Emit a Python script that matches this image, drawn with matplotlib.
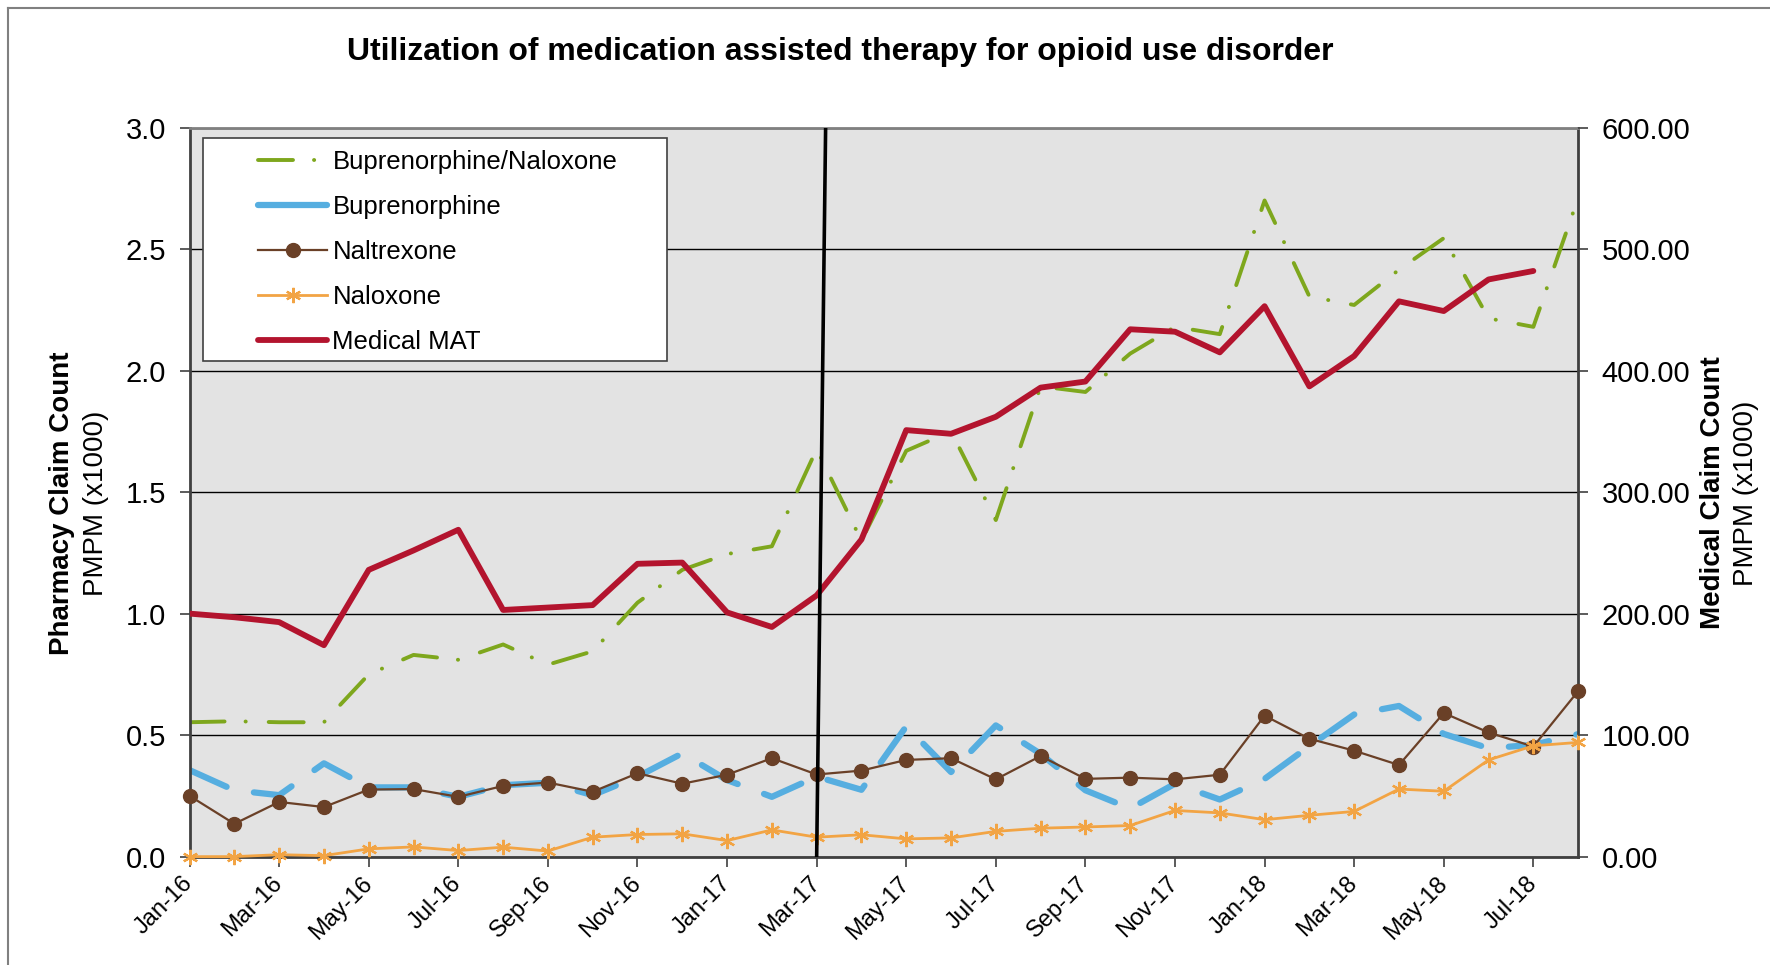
import numpy as np
import matplotlib
matplotlib.use('Agg')
import matplotlib.pyplot as plt
from matplotlib.patches import Rectangle
from matplotlib.lines import Line2D
from matplotlib.ticker import FormatStrFormatter

plt.rcParams['font.family'] = ['Liberation Sans', 'DejaVu Sans']

months = ['Jan-16', 'Feb-16', 'Mar-16', 'Apr-16', 'May-16', 'Jun-16', 'Jul-16', 'Aug-16',
          'Sep-16', 'Oct-16', 'Nov-16', 'Dec-16', 'Jan-17', 'Feb-17', 'Mar-17', 'Apr-17',
          'May-17', 'Jun-17', 'Jul-17', 'Aug-17', 'Sep-17', 'Oct-17', 'Nov-17', 'Dec-17',
          'Jan-18', 'Feb-18', 'Mar-18', 'Apr-18', 'May-18', 'Jun-18', 'Jul-18', 'Aug-18']

# pharmacy claims PMPM (x1000), left axis
bup_nal = [0.553, 0.557, 0.553, 0.553, 0.75, 0.83, 0.81, 0.873, 0.79, 0.845, 1.045, 1.18,
           1.245, 1.277, 1.677, 1.30, 1.67, 1.75, 1.385, 1.935, 1.912, 2.07, 2.18, 2.15,
           2.70, 2.305, 2.27, 2.415, 2.545, 2.215, 2.18, 2.71]
bup = [0.356, 0.273, 0.253, 0.384, 0.285, 0.285, 0.246, 0.294, 0.304, 0.253, 0.329, 0.425,
       0.315, 0.246, 0.329, 0.275, 0.536, 0.348, 0.54, 0.423, 0.273, 0.198, 0.30, 0.235,
       0.32, 0.455, 0.585, 0.62, 0.505, 0.446, 0.46, 0.504]
naltrexone = [0.25, 0.135, 0.225, 0.204, 0.276, 0.278, 0.246, 0.291, 0.305, 0.267, 0.343, 0.30,
              0.337, 0.405, 0.338, 0.354, 0.398, 0.405, 0.318, 0.414, 0.32, 0.325, 0.318, 0.337,
              0.58, 0.485, 0.436, 0.377, 0.591, 0.511, 0.453, 0.681]
naloxone = [0.0, 0.0, 0.008, 0.004, 0.032, 0.04, 0.025, 0.039, 0.023, 0.08, 0.091, 0.094,
            0.066, 0.11, 0.08, 0.09, 0.073, 0.077, 0.104, 0.117, 0.122, 0.128, 0.19, 0.18,
            0.152, 0.17, 0.186, 0.278, 0.269, 0.398, 0.456, 0.47]

# medical claims PMPM (x1000), right axis
medical_mat = [200, 197, 193, 174, 236, 252, 269, 203, 205, 207, 241, 242,
               201, 189, 215, 261, 351, 348, 362, 386, 391, 434, 432, 415,
               453, 387, 412, 457, 449, 475, 482, np.nan]

event_month = 'Mar-17'

x = np.arange(len(months))

fig = plt.figure(figsize=(17.7, 9.65), dpi=100)
ax = fig.add_axes([0.1071, 0.1123, 0.7845, 0.7555])
ax.set_facecolor('#E3E3E3')

l1, = ax.plot(x, bup_nal, color='#7EA71D', lw=2.8, dashes=(9, 5.4, 0.05, 5.9),
              dash_capstyle='round', label='Buprenorphine/Naloxone')
l2, = ax.plot(x, bup, color='#56AEE0', lw=4.5, dashes=(6.5, 4.5),
              dash_capstyle='round', label='Buprenorphine')
l3, = ax.plot(x, naltrexone, color='#6A4027', lw=1.6, marker='o', ms=10,
              clip_on=False, zorder=3, label='Naltrexone')
l4, = ax.plot(x, naloxone, color='#F2A444', lw=2, marker=(6, 2, 0), ms=11, mew=1.6,
              clip_on=False, zorder=3, label='Naloxone')

ax.set_xlim(0, len(months) - 1)
ax.set_ylim(0, 3.0)
ax.set_yticks(np.arange(0, 3.01, 0.5))
ax.yaxis.set_major_formatter(FormatStrFormatter('%.1f'))
ax.yaxis.grid(True, color='black', lw=1)
ax.set_axisbelow(True)
ax.set_xticks(x[::2])
ax.set_xticklabels(months[::2], rotation=45, ha='right', va='center',
                   rotation_mode='anchor', fontsize=17)
ax.tick_params(axis='x', direction='out', length=7, width=1.2, color='#404040', pad=10)
ax.tick_params(axis='y', direction='out', length=7, width=1.2, color='#404040',
               labelsize=21, pad=10)
for side in ['left', 'bottom', 'right']:
    ax.spines[side].set_color('#404040')
    ax.spines[side].set_linewidth(2)
ax.spines['top'].set_color('#808080')
ax.spines['top'].set_linewidth(2)

ax2 = ax.twinx()
l5, = ax2.plot(x, medical_mat, color='#B3142E', lw=4.2, solid_capstyle='round',
               solid_joinstyle='round', label='Medical MAT')
ax2.set_ylim(0, 600)
ax2.set_yticks(np.arange(0, 601, 100))
ax2.yaxis.set_major_formatter(FormatStrFormatter('%.2f'))
ax2.tick_params(axis='y', direction='out', length=7, width=1.2, color='#404040',
                labelsize=21, pad=10)
for side in ax2.spines:
    ax2.spines[side].set_visible(False)

# vertical marker line
ev = months.index(event_month)
ax2.plot([ev, ev + 0.2], [0, 600], color='black', lw=2.6, zorder=4)

# legend box; the buprenorphine key is shown as a solid bar
bup_key = Line2D([], [], color='#56AEE0', lw=4.5, solid_capstyle='round')
ax2.add_patch(Rectangle((0.0098, 0.68), 0.334, 0.306, transform=ax2.transAxes,
                        facecolor='white', edgecolor='#404040', lw=1.2, zorder=5))
leg = ax2.legend(handles=[l1, bup_key, l3, l4, l5],
                 labels=['Buprenorphine/Naloxone', 'Buprenorphine', 'Naltrexone',
                         'Naloxone', 'Medical MAT'],
                 loc='upper left', bbox_to_anchor=(0.040, 0.987), frameon=False,
                 fontsize=18.5, handlelength=2.7, handletextpad=0.2,
                 labelspacing=0.82, borderpad=0)
leg.set_zorder(6)

fig.text(0.4745, 0.946, 'Utilization of medication assisted therapy for opioid use disorder',
         ha='center', va='center', fontsize=23, weight='bold')
fig.text(0.0351, 0.478, 'Pharmacy Claim Count', rotation=90, ha='center', va='center',
         fontsize=20, weight='bold')
fig.text(0.0542, 0.478, 'PMPM (x1000)', rotation=90, ha='center', va='center', fontsize=20)
fig.text(0.968, 0.489, 'Medical Claim Count', rotation=90, ha='center', va='center',
         fontsize=20, weight='bold')
fig.text(0.9866, 0.489, 'PMPM (x1000)', rotation=90, ha='center', va='center', fontsize=20)

# outer chart border (left and top visible)
fig.add_artist(Line2D([0.0045, 0.0045], [0, 0.992], transform=fig.transFigure,
                      color='#808080', lw=1.5))
fig.add_artist(Line2D([0.0045, 1], [0.992, 0.992], transform=fig.transFigure,
                      color='#808080', lw=1.5))

fig.savefig('out.png', dpi=100)
